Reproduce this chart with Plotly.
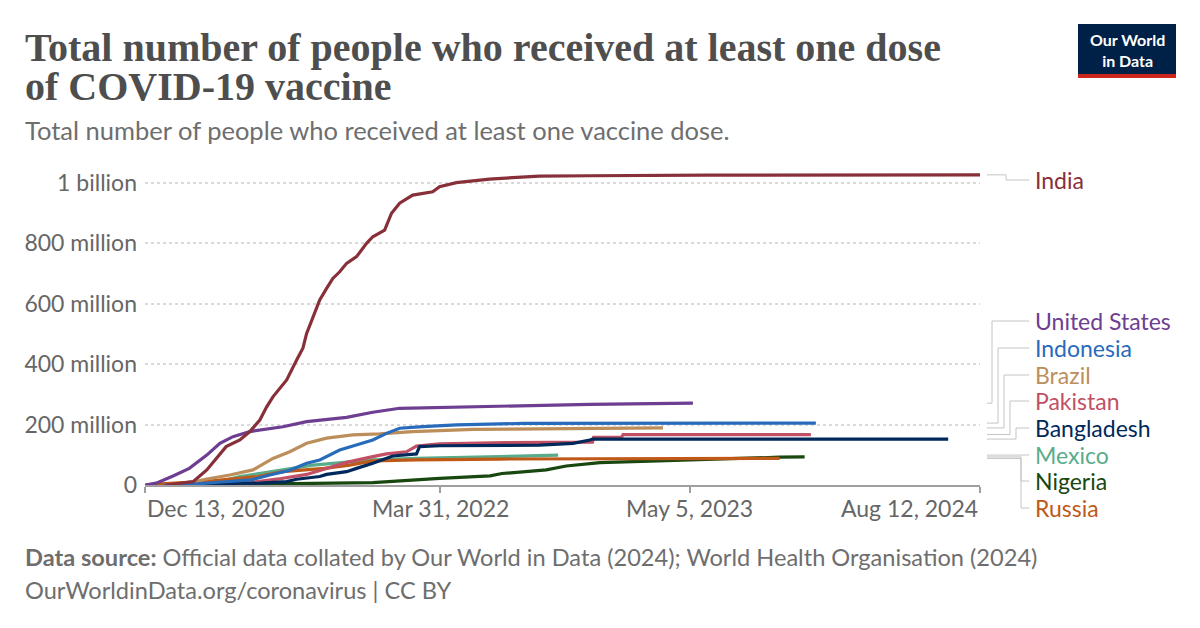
import plotly.graph_objects as go

# ---------------- data (values in millions) ----------------
india_dates = ["2021-01-16", "2021-02-01", "2021-02-28", "2021-03-22", "2021-04-12", "2021-04-22",
               "2021-05-14", "2021-05-30", "2021-06-15", "2021-06-26", "2021-07-06", "2021-07-28",
               "2021-08-13", "2021-08-23", "2021-08-29", "2021-09-08", "2021-09-19", "2021-09-30",
               "2021-10-10", "2021-10-21", "2021-11-01", "2021-11-17", "2021-12-03", "2021-12-13",
               "2022-01-01", "2022-01-12", "2022-01-25", "2022-02-15", "2022-03-19", "2022-03-30",
               "2022-04-26", "2022-06-18", "2022-09-06", "2022-11-26", "2023-06-01", "2024-08-12"]
india_vals = [0, 4, 11, 50, 105, 127, 149, 177, 215, 259, 292, 348, 414, 453, 502, 557, 613, 651,
              684, 706, 734, 756, 800, 822, 844, 900, 933, 960, 971, 988, 1001, 1013, 1023, 1024,
              1026, 1027]

us_dates = ["2020-12-13", "2020-12-31", "2021-01-27", "2021-02-22", "2021-03-22", "2021-04-12",
            "2021-05-03", "2021-05-30", "2021-07-22", "2021-08-29", "2021-11-01", "2021-12-13",
            "2022-01-25", "2022-03-30", "2022-07-15", "2022-11-26", "2023-05-10"]
us_vals = [0, 6, 30, 55, 99, 138, 160, 177, 193, 210, 224, 241, 254, 257, 262, 267, 271]

indonesia_dates = ["2021-01-13", "2021-03-01", "2021-04-15", "2021-06-01", "2021-07-01", "2021-08-01",
                   "2021-08-29", "2021-09-19", "2021-10-21", "2021-11-17", "2021-12-13", "2022-01-04",
                   "2022-01-25", "2022-03-03", "2022-04-26", "2022-08-11", "2023-11-23"]
indonesia_vals = [0, 3, 10, 17, 33, 48, 72, 83, 116, 132, 149, 171, 188, 193, 199, 204, 205]

brazil_dates = ["2021-01-17", "2021-02-20", "2021-03-22", "2021-04-28", "2021-06-04", "2021-07-06",
                "2021-08-02", "2021-08-29", "2021-09-30", "2021-11-11", "2021-12-24", "2022-02-15",
                "2022-05-23", "2022-11-26", "2023-03-23"]
brazil_vals = [0, 6, 20, 33, 50, 88, 110, 138, 155, 166, 169, 177, 184, 188, 189]

pakistan_dates = ["2021-02-02", "2021-04-01", "2021-06-01", "2021-07-15", "2021-08-29", "2021-10-01",
                  "2021-11-01", "2021-12-13", "2022-01-04", "2022-02-05", "2022-02-21", "2022-03-30",
                  "2022-07-15", "2022-11-30", "2022-12-02", "2023-01-16", "2023-01-18", "2023-11-15"]
pakistan_vals = [0, 1, 8, 20, 35, 55, 75, 94, 103, 110, 129, 136, 140, 142, 158, 159, 167, 167]

bangladesh_dates = ["2021-02-07", "2021-04-15", "2021-06-15", "2021-07-06", "2021-07-28", "2021-08-13",
                    "2021-09-19", "2021-09-30", "2021-11-01", "2021-11-17", "2021-12-13", "2022-01-14",
                    "2022-02-05", "2022-02-21", "2022-02-26", "2022-03-30", "2022-09-06", "2022-10-30",
                    "2022-11-26", "2022-11-30", "2024-06-22"]
bangladesh_vals = [0, 5, 6, 8, 11, 19, 28, 35, 44, 55, 72, 96, 99, 103, 127, 130, 132, 138, 149, 152, 152]

mexico_dates = ["2020-12-24", "2021-02-15", "2021-03-22", "2021-04-15", "2021-05-14", "2021-07-22",
                "2021-09-08", "2021-12-13", "2022-02-21", "2022-07-04", "2022-10-06"]
mexico_vals = [0, 2, 8, 13, 28, 50, 66, 83, 88, 94, 99]

nigeria_dates = ["2021-03-05", "2021-06-01", "2021-08-29", "2021-12-13", "2022-03-30", "2022-06-19",
                 "2022-07-08", "2022-09-17", "2022-10-19", "2022-11-26", "2022-12-12", "2023-03-02",
                 "2023-05-21", "2023-09-26", "2023-11-05"]
nigeria_vals = [0, 2, 5, 8, 22, 30, 38, 50, 63, 72, 74, 79, 85, 92, 93]

russia_dates = ["2020-12-15", "2020-12-31", "2021-03-22", "2021-06-12", "2021-07-22", "2021-09-26",
                "2021-11-06", "2021-12-13", "2022-02-21", "2022-07-04", "2023-09-26"]
russia_vals = [0, 3, 12, 28, 44, 55, 66, 80, 83, 86, 88]

series = [
    ("Mexico", mexico_dates, mexico_vals, "#58AC8C"),
    ("Nigeria", nigeria_dates, nigeria_vals, "#18470F"),
    ("Russia", russia_dates, russia_vals, "#C05917"),
    ("Pakistan", pakistan_dates, pakistan_vals, "#C15065"),
    ("Bangladesh", bangladesh_dates, bangladesh_vals, "#00295B"),
    ("Brazil", brazil_dates, brazil_vals, "#BC8E5A"),
    ("Indonesia", indonesia_dates, indonesia_vals, "#286BBB"),
    ("United States", us_dates, us_vals, "#6D3E91"),
    ("India", india_dates, india_vals, "#883039"),
]

y_tickvals = [0, 200e6, 400e6, 600e6, 800e6, 1000e6]
y_ticktext = ["0", "200 million", "400 million", "600 million", "800 million", "1 billion"]
x_tickvals = ["2020-12-13", "2022-03-31", "2023-05-05", "2024-08-12"]
x_ticktext = ["Dec 13, 2020", "Mar 31, 2022", "May 5, 2023", "Aug 12, 2024"]

# label placement (pixel y of each end label) and connector elbow x
label_layout = {
    "India": (180, 1006),
    "United States": (321, 992),
    "Indonesia": (348, 998),
    "Brazil": (375, 1004),
    "Pakistan": (401, 1010),
    "Bangladesh": (428, 1016),
    "Mexico": (455, 1021),
    "Nigeria": (481, 1021),
    "Russia": (508, 1021),
}

# ---------------- layout geometry ----------------
W, H = 1200, 628
L, R, T, B = 145, 980, 170, 485
YMAX = 1000e6 * (B - T) / (B - 183)

def px(x):
    return (x - L) / (R - L)

def py(y):
    return (B - y) / (B - T)

FONT = "Lato, 'Open Sans', sans-serif"
SERIF = "'Liberation Serif', 'DejaVu Serif', serif"

fig = go.Figure()
for name, d, v, c in series:
    fig.add_trace(go.Scatter(
        x=d, y=[val * 1e6 for val in v], mode="lines", name=name,
        line=dict(color=c, width=3.2), showlegend=False, hoverinfo="skip"))

shapes = []
annotations = []

# end labels and connectors
for name, d, v, c in series:
    ly, xv = label_layout[name]
    yend = py(B - (v[-1] * 1e6) / YMAX * (B - T))
    ylab = py(ly)
    pts = [(px(987), yend), (px(xv), yend), (px(xv), ylab), (px(1029), ylab)]
    path = "M " + " L ".join(f"{a},{b}" for a, b in pts)
    shapes.append(dict(type="path", xref="paper", yref="paper", path=path,
                       line=dict(color="#c4c4c4", width=1)))
    annotations.append(dict(x=px(1033), y=ylab, xref="paper", yref="paper", text=name,
                            showarrow=False, xanchor="left", yanchor="middle",
                            font=dict(family=FONT, size=23, color=c)))

# x tick labels (first left-aligned, last right-aligned)
anchors = ["left", "center", "center", "right"]
for tv, tt, an in zip(x_tickvals, x_ticktext, anchors):
    annotations.append(dict(x=tv, y=py(508), xref="x", yref="paper", text=tt, showarrow=False,
                            xanchor=an, yanchor="middle",
                            font=dict(family=FONT, size=23, color="#666666")))

# title, subtitle
annotations.append(dict(x=px(23), y=py(47), xref="paper", yref="paper",
                        text="<b>Total number of people who received at least one dose</b>",
                        showarrow=False, xanchor="left", yanchor="middle",
                        font=dict(family=SERIF, size=40, color="#4e4e4e")))
annotations.append(dict(x=px(23), y=py(86), xref="paper", yref="paper",
                        text="<b>of COVID-19 vaccine</b>",
                        showarrow=False, xanchor="left", yanchor="middle",
                        font=dict(family=SERIF, size=40, color="#4e4e4e")))
annotations.append(dict(x=px(23), y=py(130), xref="paper", yref="paper",
                        text="Total number of people who received at least one vaccine dose.",
                        showarrow=False, xanchor="left", yanchor="middle",
                        font=dict(family=FONT, size=25.5, color="#6e6e6e")))

# footer
annotations.append(dict(x=px(23), y=py(557), xref="paper", yref="paper",
                        text="<b>Data source:</b> Official data collated by Our World in Data (2024); World Health Organisation (2024)",
                        showarrow=False, xanchor="left", yanchor="middle",
                        font=dict(family=FONT, size=23.6, color="#6e6e6e")))
annotations.append(dict(x=px(23), y=py(590), xref="paper", yref="paper",
                        text="OurWorldinData.org/coronavirus | CC BY",
                        showarrow=False, xanchor="left", yanchor="middle",
                        font=dict(family=FONT, size=23.6, color="#6e6e6e")))

# logo
shapes.append(dict(type="rect", xref="paper", yref="paper", x0=px(1078), x1=px(1176),
                   y0=py(74), y1=py(24), fillcolor="#002147", line=dict(width=0), layer="above"))
shapes.append(dict(type="rect", xref="paper", yref="paper", x0=px(1078), x1=px(1176),
                   y0=py(78), y1=py(74), fillcolor="#ce261e", line=dict(width=0), layer="above"))
annotations.append(dict(x=px(1127), y=py(50), xref="paper", yref="paper",
                        text="<b>Our World</b><br><b>in Data</b>",
                        showarrow=False, xanchor="center", yanchor="middle", align="center",
                        font=dict(family=FONT, size=16, color="white")))

fig.update_layout(
    width=W, height=H,
    margin=dict(l=L, r=W - R, t=T, b=H - B, pad=0),
    paper_bgcolor="white", plot_bgcolor="white",
    shapes=shapes, annotations=annotations,
    xaxis=dict(range=["2020-12-13", "2024-08-12"], tickvals=x_tickvals, showticklabels=False,
               ticks="outside", ticklen=6, tickwidth=1.5, tickcolor="#a0a0a0",
               showline=True, linecolor="#a0a0a0", linewidth=1.5, showgrid=False, zeroline=False),
    yaxis=dict(range=[0, YMAX], tickvals=y_tickvals, ticktext=y_ticktext,
               tickfont=dict(family=FONT, size=23, color="#666666"),
               showgrid=True, gridcolor="#d9d9d9", gridwidth=1.5, griddash="dot",
               zeroline=False, showline=False, ticks="", ticklabelstandoff=7),
)

fig.write_html("out.html")
